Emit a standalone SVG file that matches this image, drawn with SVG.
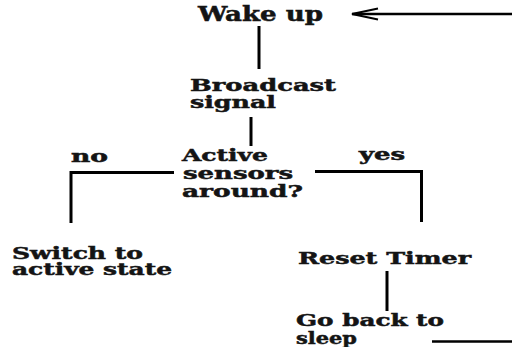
<svg xmlns="http://www.w3.org/2000/svg" width="512" height="347" viewBox="0 0 512 347">
<defs>
<style>
text{font-family:"DejaVu Serif","Liberation Serif",serif;font-weight:bold;fill:#141414;stroke:#141414;stroke-width:0.5;font-size:17.5px}
.big{font-size:20px}
.lbl{font-size:16px}
.c{stroke:#000;stroke-width:3;fill:none}
.t{stroke:#000;stroke-width:2.5;fill:none}
</style>
<marker id="open" markerUnits="userSpaceOnUse" markerWidth="30" markerHeight="16" refX="0" refY="0" viewBox="-28 -8 30 16" orient="auto" overflow="visible">
<path d="M-26,-5.5 L0,0 L-26,5.5" fill="none" stroke="#000" stroke-width="2"/>
</marker>
</defs>
<rect width="512" height="347" fill="#fff"/>
<g id="connectors">
<line class="c" x1="259" y1="26" x2="259" y2="69"/>
<line class="c" x1="251" y1="117" x2="251" y2="146"/>
<polyline class="c" points="174,172.5 71,172.5 71,223"/>
<polyline class="c" points="315,171.5 421.5,171.5 421.5,222"/>
<line class="c" x1="387" y1="271" x2="387" y2="311"/>
<path class="t" d="M432,341.5 H514 V14 H352" marker-end="url(#open)"/>
<text class="lbl" x="71" y="162" textLength="37" lengthAdjust="spacingAndGlyphs">no</text>
<text class="lbl" x="359" y="160" textLength="46" lengthAdjust="spacingAndGlyphs">yes</text>
</g>
<g id="wake">
<text class="big" x="198" y="21" textLength="125" lengthAdjust="spacingAndGlyphs">Wake up</text>
</g>
<g id="broadcast">
<text><tspan x="190" y="91" textLength="146" lengthAdjust="spacingAndGlyphs">Broadcast</tspan><tspan x="190" y="108" textLength="86" lengthAdjust="spacingAndGlyphs">signal</tspan></text>
</g>
<g id="decision">
<text><tspan x="182" y="161" textLength="86" lengthAdjust="spacingAndGlyphs">Active</tspan><tspan x="183" y="179" textLength="110" lengthAdjust="spacingAndGlyphs">sensors</tspan><tspan x="182" y="197" textLength="121" lengthAdjust="spacingAndGlyphs">around?</tspan></text>
</g>
<g id="switch">
<text><tspan x="12" y="259" textLength="131" lengthAdjust="spacingAndGlyphs">Switch to</tspan><tspan x="12" y="275" textLength="160" lengthAdjust="spacingAndGlyphs">active state</tspan></text>
</g>
<g id="reset">
<text x="298" y="264" textLength="173" lengthAdjust="spacingAndGlyphs">Reset Timer</text>
</g>
<g id="sleep">
<text><tspan x="296" y="326" textLength="148" lengthAdjust="spacingAndGlyphs">Go back to</tspan><tspan x="296" y="344" textLength="61" lengthAdjust="spacingAndGlyphs">sleep</tspan></text>
</g>
</svg>
